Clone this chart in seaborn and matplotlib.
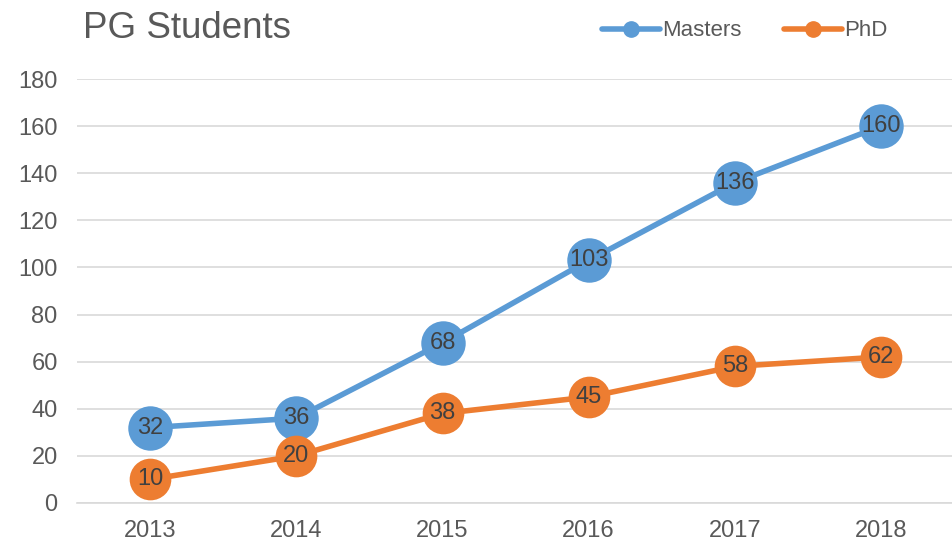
import matplotlib
import matplotlib.pyplot as plt
from matplotlib.lines import Line2D
import seaborn as sns
import pandas as pd

years = [2013, 2014, 2015, 2016, 2017, 2018]
masters = [32, 36, 68, 103, 136, 160]
phd = [10, 20, 38, 45, 58, 62]
series = ['Masters', 'PhD']
colors = {'Masters': '#5B9BD5', 'PhD': '#ED7D31'}
sizes = {'Masters': 32, 'PhD': 30}

df = pd.DataFrame({
    'year': years * 2,
    'students': masters + phd,
    'series': ['Masters'] * len(years) + ['PhD'] * len(years),
})

sns.set_theme(style='white')
plt.rcParams['font.family'] = ['Liberation Sans', 'DejaVu Sans']
text_col = '#595959'

fig = plt.figure(figsize=(9.53, 5.43), dpi=100)
ax = fig.add_axes([0.081, 0.0737, 0.92, 0.7808])

sns.lineplot(data=df, x='year', y='students', hue='series', palette=colors,
             linewidth=4.0, legend=False, ax=ax, zorder=2)

for name in series:
    sub = df[df['series'] == name]
    ax.plot(sub['year'], sub['students'], 'o', color=colors[name],
            markersize=sizes[name], markeredgewidth=0, zorder=3)
    for x, y in zip(sub['year'], sub['students']):
        ax.text(x, y, str(y), ha='center', va='center', fontsize=17,
                color='#404040', zorder=4)

ax.set_xlim(2012.5, 2018.5)
ax.set_ylim(0, 180)
ax.set_yticks(range(0, 181, 20))
ax.set_xticks(years)
ax.set_xticklabels([str(y) for y in years])
ax.tick_params(axis='both', labelsize=17, labelcolor=text_col, length=0)
ax.tick_params(axis='y', pad=14)
ax.tick_params(axis='x', pad=12)
ax.yaxis.grid(True, color='#D9D9D9', linewidth=1.2)
ax.set_axisbelow(True)
for s in ['top', 'right', 'left']:
    ax.spines[s].set_visible(False)
ax.spines['bottom'].set_color('#D9D9D9')
ax.spines['bottom'].set_linewidth(1.2)
ax.set_xlabel('')
ax.set_ylabel('')

fig.text(0.087, 0.948, 'PG Students', fontsize=26.5, color=text_col, va='center')

handles = [Line2D([0], [0], color=colors[n], linewidth=4.0, marker='o',
                  markersize=11) for n in series]
fig.legend(handles, series, loc='center right', bbox_to_anchor=(0.952, 0.943),
           ncol=2, frameon=False, fontsize=16, labelcolor=text_col,
           handlelength=2.6, handletextpad=0.1, columnspacing=1.9)

fig.savefig('out.png', dpi=100)
